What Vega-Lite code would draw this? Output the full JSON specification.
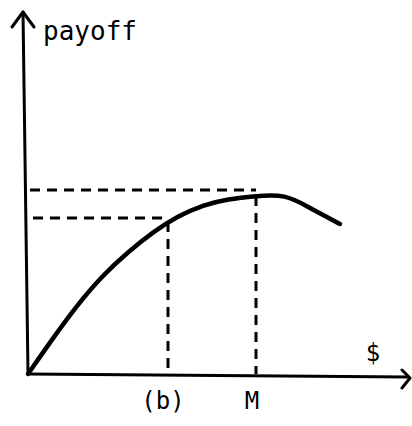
{
  "$schema": "https://vega.github.io/schema/vega-lite/v6.json",
  "width": 412,
  "height": 426,
  "padding": 0,
  "autosize": {"type": "fit", "contains": "padding"},
  "background": "white",
  "config": {"view": {"stroke": null}},
  "datasets": {
    "solid": [
      {"seg": "yaxis", "o": 1, "x": 0, "y": 0},
      {"seg": "yaxis", "o": 2, "x": -5, "y": 362},
      {"seg": "yarrow", "o": 1, "x": -16, "y": 347},
      {"seg": "yarrow", "o": 2, "x": -5, "y": 362},
      {"seg": "yarrow", "o": 3, "x": 6, "y": 347},
      {"seg": "xaxis", "o": 1, "x": 0, "y": 0},
      {"seg": "xaxis", "o": 2, "x": 380, "y": -3},
      {"seg": "xarrow", "o": 1, "x": 374, "y": 4},
      {"seg": "xarrow", "o": 2, "x": 382, "y": -4},
      {"seg": "xarrow", "o": 3, "x": 374, "y": -14}
    ],
    "curve": [
      {"x": 0, "y": 0},
      {"x": 25, "y": 36},
      {"x": 50, "y": 70},
      {"x": 75, "y": 99},
      {"x": 100, "y": 122},
      {"x": 125, "y": 142},
      {"x": 150, "y": 158},
      {"x": 175, "y": 169},
      {"x": 200, "y": 175},
      {"x": 228, "y": 178},
      {"x": 257, "y": 180},
      {"x": 282, "y": 166},
      {"x": 297, "y": 158},
      {"x": 312, "y": 150}
    ],
    "dashed": [
      {"seg": "top", "o": 1, "x": 2, "y": 184},
      {"seg": "top", "o": 2, "x": 228, "y": 184},
      {"seg": "low", "o": 1, "x": 5, "y": 156},
      {"seg": "low", "o": 2, "x": 140, "y": 156},
      {"seg": "vb", "o": 1, "x": 140, "y": 152},
      {"seg": "vb", "o": 2, "x": 140, "y": 2},
      {"seg": "vm", "o": 1, "x": 228, "y": 178},
      {"seg": "vm", "o": 2, "x": 228, "y": 0}
    ],
    "title": [
      {"t": "payoff", "x": 62, "y": 342}
    ],
    "labels": [
      {"t": "(b)", "x": 135, "y": -28},
      {"t": "M", "x": 224, "y": -28},
      {"t": "$", "x": 345, "y": 20}
    ]
  },
  "encoding": {
    "x": {"field": "x", "type": "quantitative", "scale": {"domain": [-28, 384], "nice": false, "zero": false}, "axis": null},
    "y": {"field": "y", "type": "quantitative", "scale": {"domain": [-52, 374], "nice": false, "zero": false}, "axis": null}
  },
  "layer": [
    {
      "data": {"name": "solid"},
      "mark": {"type": "line", "color": "black", "strokeWidth": 3, "strokeCap": "round", "strokeJoin": "round"},
      "encoding": {"detail": {"field": "seg"}, "order": {"field": "o"}}
    },
    {
      "data": {"name": "curve"},
      "mark": {"type": "line", "color": "black", "strokeWidth": 4.5, "interpolate": "basis", "strokeCap": "round"},
      "encoding": {"order": {"field": "x"}}
    },
    {
      "data": {"name": "dashed"},
      "mark": {"type": "line", "color": "black", "strokeWidth": 3, "strokeDash": [10, 7]},
      "encoding": {"detail": {"field": "seg"}, "order": {"field": "o"}}
    },
    {
      "data": {"name": "title"},
      "mark": {"type": "text", "font": "DejaVu Sans Mono", "fontSize": 26, "color": "black", "align": "center", "baseline": "middle"},
      "encoding": {"text": {"field": "t"}}
    },
    {
      "data": {"name": "labels"},
      "mark": {"type": "text", "font": "DejaVu Sans Mono", "fontSize": 24, "color": "black", "align": "center", "baseline": "middle"},
      "encoding": {"text": {"field": "t"}}
    }
  ]
}
